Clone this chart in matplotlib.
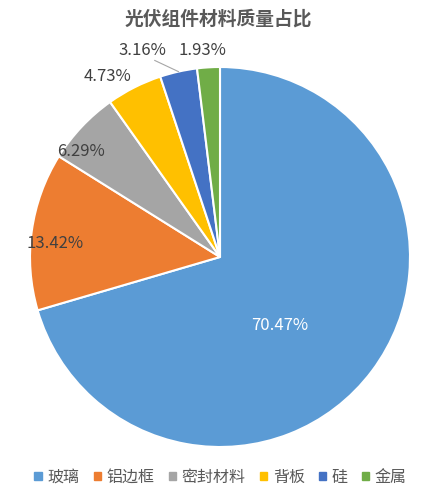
import numpy as np
import matplotlib.pyplot as plt

plt.rcParams['font.family'] = ['Noto Sans CJK SC', 'DejaVu Sans']

materials = ['玻璃', '铝边框', '密封材料', '背板', '硅', '金属']
shares = [70.47, 13.42, 6.29, 4.73, 3.16, 1.93]
colors = ['#5B9BD5', '#ED7D31', '#A5A5A5', '#FFC000', '#4472C4', '#70AD47']

# label placement: (distance from centre in radii, angle nudge in degrees)
label_pos = [(0.48, -12), (0.87, 3), (0.92, 6), (1.12, 5), (1.16, 8), (1.09, 1.5)]
label_col = ['white', '#404040', '#404040', '#404040', '#404040', '#404040']

fig = plt.figure(figsize=(4.37, 4.94), dpi=100)
ax = fig.add_axes([30 / 437, 47 / 494, 380 / 437, 380 / 494])

wedges, _ = ax.pie(shares, colors=colors, startangle=90, counterclock=False,
                   wedgeprops=dict(edgecolor='white', linewidth=1.5))
ax.set_xlim(-1, 1)
ax.set_ylim(-1, 1)
ax.set_aspect('equal')

for w, v, (d, nudge), c in zip(wedges, shares, label_pos, label_col):
    mid = np.deg2rad((w.theta1 + w.theta2) / 2 + nudge)
    ax.text(d * np.cos(mid), d * np.sin(mid), f'{v:.2f}%', ha='center', va='center',
            fontsize=12, color=c)

# leader line for the small silicon slice
w = wedges[4]
mid = np.deg2rad((w.theta1 + w.theta2) / 2)
ax.plot([np.cos(mid + 0.1) * 1.09, np.cos(mid) * 1.0], [np.sin(mid + 0.1) * 1.09, np.sin(mid) * 1.0],
        color='#A6A6A6', lw=0.8, clip_on=False)

fig.text(0.50, 0.962, '光伏组件材料质量占比', ha='center', va='center', fontsize=13.5,
         fontweight='bold', color='#595959')

handles = [plt.Rectangle((0, 0), 1, 1, color=c) for c in colors]
fig.legend(handles, materials, loc='center', bbox_to_anchor=(0.505, 0.034), ncol=6, frameon=False,
           fontsize=11.5, handlelength=0.45, handleheight=0.45, handletextpad=0.35, columnspacing=0.9,
           labelcolor='#595959')

fig.savefig('out.png', dpi=100, facecolor='white')
